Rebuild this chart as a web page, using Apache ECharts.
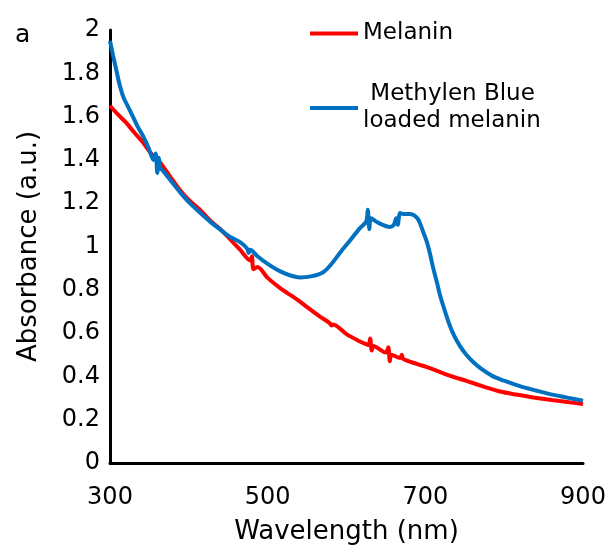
<!DOCTYPE html>
<html>
<head>
<meta charset="utf-8">
<script src="https://cdn.jsdelivr.net/npm/echarts@6/dist/echarts.min.js"></script>
<style>
  html, body { margin: 0; padding: 0; background: #fff; }
  #main { width: 611px; height: 550px; }
</style>
</head>
<body>
<div id="main"></div>
<script>
// wavelength (nm) / absorbance
var melaninX = [300,310,321,330,342,352,363,375,389,400,414,427,440,452,465,478,480,482,487,500,515,525,537,550,565,579,581,583,600,615,624,628,630,632,634,650,653,655,657,668,670,672,690,702,710,730,753,775,795,815,837,860,880,900];
var melaninY = [1.65,1.61,1.57,1.53,1.48,1.43,1.39,1.33,1.26,1.215,1.17,1.12,1.08,1.035,0.985,0.935,0.955,0.895,0.905,0.855,0.81,0.785,0.756,0.72,0.68,0.645,0.635,0.64,0.595,0.565,0.55,0.545,0.575,0.52,0.54,0.51,0.535,0.47,0.50,0.485,0.50,0.48,0.457,0.443,0.433,0.405,0.378,0.352,0.33,0.316,0.303,0.291,0.282,0.272];

var mbX = [300,304,308,312,317,323,329,335,342,349,355,358,360,362,364,366,378,389,400,414,427,440,452,465,474,476,478,487,500,516,530,541,555,570,580,592,605,617,625,627,629,631,640,655,660,663,665,668,672,680,685,690,693,697,702,706,710,715,719,725,731,737,744,752,761,772,786,800,820,840,858,880,900];
var mbY = [1.95,1.88,1.815,1.75,1.69,1.645,1.60,1.555,1.51,1.455,1.40,1.43,1.34,1.41,1.36,1.355,1.30,1.25,1.205,1.157,1.115,1.078,1.045,1.02,0.99,0.97,0.985,0.955,0.92,0.885,0.865,0.857,0.862,0.88,0.915,0.972,1.03,1.085,1.115,1.17,1.08,1.13,1.11,1.09,1.10,1.13,1.10,1.155,1.15,1.15,1.145,1.13,1.11,1.07,1.02,0.965,0.90,0.83,0.77,0.70,0.635,0.585,0.54,0.50,0.465,0.432,0.40,0.38,0.355,0.335,0.318,0.302,0.288];

var seriesNames = ['Melanin', 'Methylen Blue\nloaded melanin'];

function pairs(xs, ys) {
  var out = [];
  for (var i = 0; i < xs.length; i++) out.push([xs[i], ys[i]]);
  return out;
}

var font = "'DejaVu Sans', sans-serif";
var myChart = echarts.init(document.getElementById('main'));

var option = {
  animation: false,
  textStyle: { fontFamily: font },
  title: {
    text: 'a',
    left: 10,
    top: 18,
    textStyle: { fontSize: 25, fontWeight: 'normal', color: '#000', fontFamily: font }
  },
  legend: {
    orient: 'vertical',
    left: 305,
    top: 15,
    itemWidth: 48,
    itemHeight: 4,
    itemGap: 34,
    icon: 'rect',
    data: seriesNames,
    formatter: function (n) { return n.indexOf('\n') > 0 ? ' ' + n : n; },
    textStyle: { fontSize: 23, color: '#000', lineHeight: 27, fontFamily: font }
  },
  grid: { left: 110, right: 28, top: 30, bottom: 86 },
  xAxis: {
    type: 'value',
    min: 300,
    max: 900,
    interval: 200,
    name: 'Wavelength (nm)',
    nameLocation: 'middle',
    nameGap: 56,
    nameTextStyle: { fontSize: 26, color: '#000', fontFamily: font },
    axisLine: { lineStyle: { color: '#000', width: 3 } },
    axisTick: { show: false },
    splitLine: { show: false },
    axisLabel: { fontSize: 24, color: '#000', margin: 23, fontFamily: font }
  },
  yAxis: {
    type: 'value',
    min: 0,
    max: 2,
    interval: 0.2,
    name: 'Absorbance (a.u.)',
    nameLocation: 'middle',
    nameGap: 68,
    nameTextStyle: { fontSize: 26, color: '#000', fontFamily: font },
    axisLine: { show: true, lineStyle: { color: '#000', width: 3 } },
    axisTick: { show: false },
    splitLine: { show: false },
    axisLabel: { fontSize: 24, color: '#000', margin: 10, fontFamily: font }
  },
  series: [
    {
      name: seriesNames[0],
      type: 'line',
      showSymbol: false,
      smooth: 0.3,
      color: '#ff0000',
      lineStyle: { width: 4, color: '#ff0000' },
      data: pairs(melaninX, melaninY),
      z: 2
    },
    {
      name: seriesNames[1],
      type: 'line',
      showSymbol: false,
      smooth: 0.3,
      color: '#0070c0',
      lineStyle: { width: 4, color: '#0070c0' },
      data: pairs(mbX, mbY),
      z: 3
    }
  ]
};
myChart.setOption(option);
</script>
</body>
</html>
